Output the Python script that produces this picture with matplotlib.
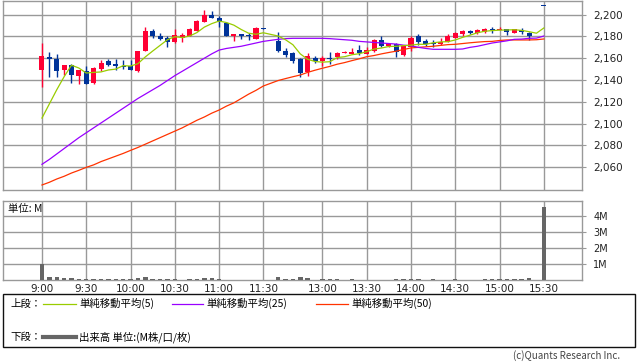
import matplotlib.pyplot as plt
from matplotlib.lines import Line2D
from matplotlib.patches import Rectangle

# 5分足 (スロット番号: 9:00=0, 11:30=30, 12:30=32, 15:30=68)
slot = list(range(0, 31)) + list(range(32, 67)) + [68]
opens = [2149, 2161, 2159, 2149, 2154, 2144, 2148, 2137, 2150, 2157, 2155, 2153, 2153, 2148, 2167, 2185,
         2180, 2179, 2175, 2179, 2180, 2185, 2193, 2200, 2197, 2192, 2180, 2182, 2181, 2178, 2188,
         2176, 2167, 2165, 2159, 2147, 2160, 2157, 2159.5, 2161, 2165, 2164, 2168, 2164, 2167, 2177, 2171,
         2173, 2163, 2170, 2180, 2176, 2173.5, 2173, 2175, 2179, 2182, 2185, 2183, 2184, 2186.5, 2186, 2187,
         2183, 2186, 2183,
         2208]
highs = [2174, 2166, 2164, 2154, 2155, 2149, 2153, 2152, 2158, 2159, 2159, 2158, 2158, 2167, 2189, 2187,
         2183, 2180, 2187, 2183, 2188, 2195, 2204, 2203, 2199, 2193, 2182, 2182, 2183, 2189, 2188,
         2184, 2169, 2166, 2160, 2165, 2162, 2162, 2166, 2166, 2167, 2169, 2172, 2170, 2178, 2180.5, 2174,
         2174, 2172, 2180, 2182, 2178, 2177, 2179, 2182, 2184, 2186, 2186, 2187, 2188, 2189, 2189, 2187,
         2187, 2188, 2184,
         2208]
lows = [2134, 2143, 2143, 2145, 2137, 2136, 2136, 2136, 2148, 2153, 2149, 2150, 2149, 2147, 2167, 2179,
        2177, 2170, 2174, 2175, 2180, 2185, 2193, 2197, 2189, 2180, 2176, 2178, 2177, 2178, 2187,
        2166, 2161, 2156, 2143, 2144, 2156, 2153, 2155, 2159, 2165, 2164, 2163, 2164, 2166, 2170.5, 2170,
        2161, 2162, 2167, 2172, 2171, 2170, 2172, 2175, 2179, 2180, 2182, 2182, 2183, 2183, 2186, 2181,
        2183, 2182, 2177,
        2208]
closes = [2162, 2159, 2148, 2154, 2145, 2149, 2136, 2151, 2156, 2154, 2153, 2152, 2149, 2167, 2185, 2180,
          2178, 2175, 2181, 2181, 2187, 2194, 2200, 2197, 2193, 2180, 2182, 2180, 2180, 2188, 2187,
          2167, 2163, 2157, 2146, 2162, 2157, 2160, 2159, 2165, 2166, 2166, 2165, 2168, 2177, 2171, 2173,
          2166, 2171, 2179, 2175, 2173, 2173, 2175, 2180, 2183, 2185, 2183, 2186, 2187, 2186, 2187, 2184,
          2187, 2184, 2180,
          2208]
volume = [1.0, 0.19, 0.19, 0.12, 0.12, 0.06, 0.06, 0.06, 0.06, 0.06, 0.06, 0.06, 0.06, 0.12, 0.19, 0.06,
          0.06, 0.06, 0.06, 0.02, 0.06, 0.06, 0.12, 0.12, 0.06, 0.02, 0.02, 0.02, 0.02, 0.02, 0.02,
          0.19, 0.06, 0.06, 0.19, 0.12, 0.02, 0.06, 0.06, 0.06, 0.02, 0.06, 0.02, 0.02, 0.02, 0.02, 0.02,
          0.06, 0.06, 0.06, 0.06, 0.02, 0.06, 0.02, 0.02, 0.06, 0.02, 0.02, 0.02, 0.06, 0.06, 0.06, 0.06,
          0.06, 0.06, 0.12,
          4.56]

# 移動平均 (15:25 のスロットも含む)
ma_slot = list(range(0, 31)) + list(range(32, 69))
ma5 = [2105, 2118, 2131, 2143, 2153.6, 2151.0, 2146.4, 2147.0, 2147.4, 2149.2, 2150.0, 2153.2, 2152.8,
       2155.0, 2161.2, 2166.6, 2171.8, 2177.0, 2179.8, 2179.0, 2180.4, 2183.6, 2188.6, 2191.8, 2194.2,
       2192.8, 2190.4, 2186.4, 2183.0, 2182.0, 2183.4,
       2180.4, 2177.0, 2172.4, 2164.0, 2159.0, 2157.0, 2156.4, 2156.8, 2160.6, 2161.4, 2163.2, 2164.2,
       2166.0, 2168.4, 2169.4, 2170.8, 2171.0, 2171.6, 2172.0, 2172.8, 2172.8, 2174.2, 2175.0, 2175.2,
       2176.8, 2179.2, 2181.2, 2183.4, 2184.8, 2185.4, 2185.8, 2186.0, 2186.2, 2185.6, 2184.4, 2183.0, 2187.8]
ma25 = [2062.5, 2067, 2072, 2077, 2082, 2087, 2091.5, 2096, 2100.5, 2105, 2109.5, 2114, 2118.5, 2123,
        2127, 2131, 2135, 2139.5, 2144, 2148, 2152, 2156, 2160, 2164, 2167.5, 2169, 2170, 2171, 2172.5,
        2174, 2175.5,
        2177.4, 2178, 2178.3, 2178.3, 2178.3, 2178.3, 2178.3, 2178, 2177.5, 2177, 2176.5, 2175.5, 2175,
        2174.5, 2174, 2173.5, 2173, 2172, 2171.5, 2170, 2169, 2168.2, 2168.2, 2168.2, 2168.2, 2168.5,
        2170, 2171, 2172.5, 2174, 2175, 2176, 2177.4, 2177.6, 2178.3, 2178.5, 2180.4]
ma50 = [2043.5, 2046, 2049, 2051.5, 2054.5, 2057, 2059.7, 2062, 2065, 2067.5, 2070, 2072.5, 2075.3,
        2078, 2081, 2084, 2087, 2090, 2093, 2096, 2099.5, 2103, 2106, 2109.5, 2112.4, 2116, 2119, 2123,
        2127, 2130.5, 2134.5,
        2139.5, 2141.3, 2143, 2144.6, 2147, 2149, 2150.8, 2152.5, 2154.5, 2156, 2157.8, 2159.5, 2161.4,
        2162.5, 2164, 2165.3, 2166.5, 2168, 2169.5, 2170, 2170.5, 2171, 2171.8, 2172.5, 2172.8, 2173.5,
        2174.2, 2174.8, 2175.3, 2175.5, 2176.3, 2176.8, 2176.8, 2176.8, 2176.8, 2177, 2177.7]

tick_slot = [0, 6, 12, 18, 24, 30, 38, 44, 50, 56, 62, 68]
tick_labels = ['9:00', '9:30', '10:00', '10:30', '11:00', '11:30',
               '13:00', '13:30', '14:00', '14:30', '15:00', '15:30']
price_ticks = [2060, 2080, 2100, 2120, 2140, 2160, 2180, 2200]
vol_ticks = [1, 2, 3, 4]

UP = '#ff0033'
DOWN = '#003399'
GRID = '#999999'
JP = ['Noto Sans CJK JP', 'DejaVu Sans']

plt.rcParams['font.family'] = ['DejaVu Sans', 'Noto Sans CJK JP']
W, H = 638, 362
fig = plt.figure(figsize=(W / 100, H / 100), dpi=100)


def box(l, t, r, b):
    return [l / W, 1 - b / H, (r - l) / W, (b - t) / H]


ax1 = fig.add_axes(box(3, 1, 582, 190))
ax2 = fig.add_axes(box(3, 201, 582, 280))

for ax in (ax1, ax2):
    ax.set_xlim(-5.28, 73.17)
    ax.set_xticks(tick_slot)
    ax.grid(True, color=GRID, linewidth=1.0)
    ax.set_axisbelow(True)
    for s in ax.spines.values():
        s.set_color(GRID)
        s.set_linewidth(1.0)
    ax.yaxis.tick_right()
    ax.tick_params(axis='y', colors=GRID, length=3, width=0.8, labelcolor='#222222', labelsize=7.5, pad=5)

# ローソク足
colors = [UP if c > o else DOWN for o, c in zip(opens, closes)]
ax1.vlines(slot, lows, highs, colors=colors, linewidth=1.0, zorder=2)
bottoms = [min(o, c) for o, c in zip(opens, closes)]
heights = [max(abs(c - o), 0.9) for o, c in zip(opens, closes)]
ax1.bar(slot, heights, bottom=bottoms, width=0.68, color=colors, linewidth=0, zorder=3)

ax1.plot(ma_slot, ma50, color='#ff3300', linewidth=0.9, zorder=4)
ax1.plot(ma_slot, ma25, color='#9900ff', linewidth=0.9, zorder=4)
ax1.plot(ma_slot, ma5, color='#99cc00', linewidth=0.9, zorder=5)

ax1.set_ylim(2038.9, 2212.6)
ax1.set_yticks(price_ticks)
ax1.set_yticklabels([f'{p:,}' for p in price_ticks])
ax1.tick_params(axis='x', length=0, labelbottom=False)

# 出来高
ax2.bar(slot, volume, width=0.6, color='#666666', linewidth=0, zorder=3)
ax2.set_ylim(0, 4.94)
ax2.set_yticks(vol_ticks)
ax2.set_yticklabels([f'{v}M' for v in vol_ticks])
ax2.tick_params(axis='y', labelsize=7)
ax2.set_xticklabels(tick_labels)
ax2.tick_params(axis='x', length=0, pad=3, labelsize=7.5, labelcolor='#222222')
ax2.text(0.009, 0.9, '単位: M', transform=ax2.transAxes, fontsize=7.5, family=JP,
         ha='left', va='center', color='#111111')

# 凡例
fig.add_artist(Rectangle((3 / W, 1 - 347 / H), 632 / W, 53 / H, transform=fig.transFigure,
                         fill=False, edgecolor='#111111', linewidth=1.0))


def fy(py):
    return 1 - py / H


y1, y2 = fy(303.5), fy(337)
fig.text(10 / W, y1, '上段：', fontsize=7.5, family=JP, va='center')
for x0, x1, col, lab in [(43, 76, '#99cc00', '単純移動平均(5)'),
                         (172, 203, '#9900ff', '単純移動平均(25)'),
                         (316, 348, '#ff3300', '単純移動平均(50)')]:
    fig.add_artist(Line2D([x0 / W, x1 / W], [y1, y1], color=col, linewidth=0.9))
    fig.text((x1 + 3) / W, y1, lab, fontsize=7.5, family=JP, va='center')
fig.text(10 / W, y2, '下段：', fontsize=7.5, family=JP, va='center')
fig.add_artist(Line2D([43 / W, 76 / W], [y2, y2], color='#666666', linewidth=3))
fig.text(79 / W, y2, '出来高 単位:(M株/口/枚)', fontsize=7.5, family=JP, va='center')

fig.text(620 / W, fy(356), '(c)Quants Research Inc.', fontsize=7, family=JP,
         ha='right', va='center', color='#444444')

fig.savefig('out.png', dpi=100)
